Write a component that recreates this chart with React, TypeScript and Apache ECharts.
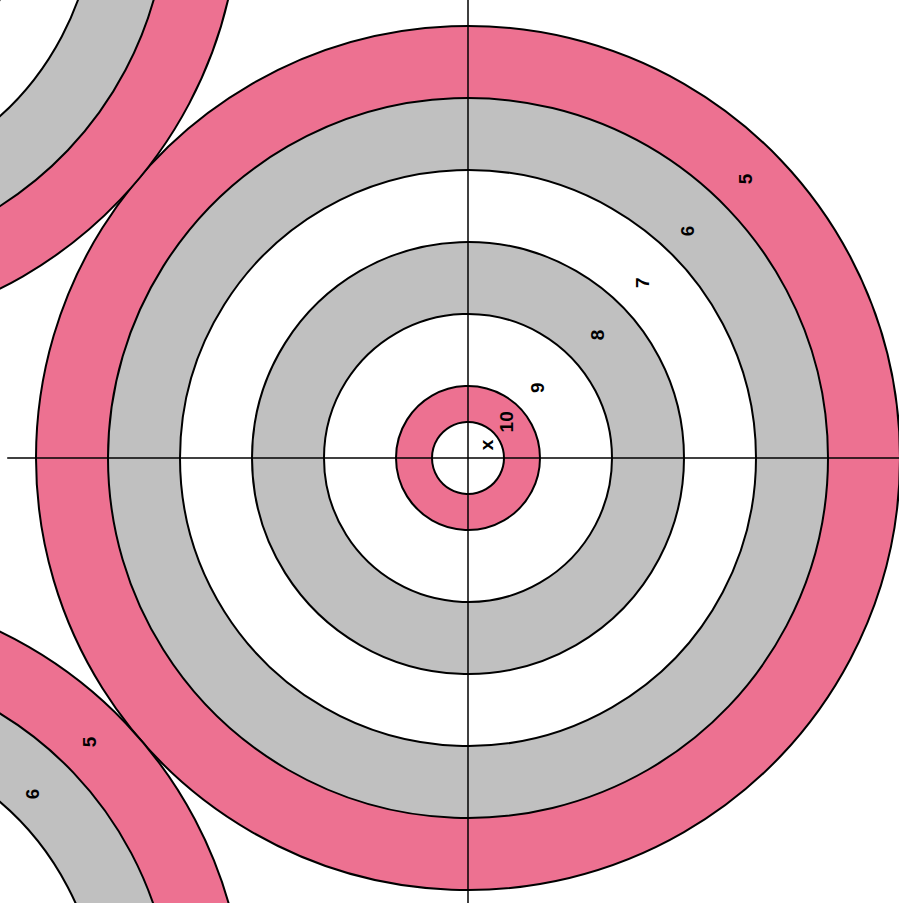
import React, { useEffect, useRef } from "react";
import * as echarts from "echarts";

// Target centres, in ring units (main target at origin)
const TARGET_X = [0, -9.18, -9.1];
const TARGET_Y = [0, 7.72, -7.82];

// Ring radii (ring units), outer to inner, and their fills
const RING_RADII = [6, 5, 4, 3, 2, 1, 0.5];
const RING_COLORS = ["#ED7191", "#C0C0C0", "#FFFFFF", "#C0C0C0", "#FFFFFF", "#ED7191", "#FFFFFF"];

// Score labels along the diagonal
const SCORE_LABELS = ["5", "6", "7", "8", "9", "10", "x"];
const LABEL_RADII = [5.46, 4.39, 3.43, 2.48, 1.37, 0.73, 0.31];
const LABEL_ANGLES = [45.2, 45.9, 45.2, 43.6, 45.4, 43.5, 35.8];

const CROSS_HALF = 6.4;

const W = 899;
const H = 903;
const CX = 468;
const CY = 458;
const UNIT = 72;

export default function App() {
  const ref = useRef<HTMLDivElement>(null);
  useEffect(() => {
    if (!ref.current) return;
    const chart = echarts.init(ref.current, null, { renderer: "svg" });
    const data = TARGET_X.map((x, i) => [x, TARGET_Y[i]]);
    chart.setOption({
      animation: false,
      backgroundColor: "#FFFFFF",
      grid: { left: 0, right: 0, top: 0, bottom: 0 },
      xAxis: { type: "value", min: -CX / UNIT, max: (W - CX) / UNIT, show: false },
      yAxis: { type: "value", min: -(H - CY) / UNIT, max: CY / UNIT, show: false },
      series: [
        {
          type: "custom",
          clip: false,
          data,
          renderItem: (params: any, api: any) => {
            const c = api.coord([api.value(0), api.value(1)]);
            const u = api.size([1, 1])[0];
            const vw = api.getWidth();
            const vh = api.getHeight();
            const children: any[] = [];
            RING_RADII.forEach((r, k) => {
              children.push({
                type: "circle",
                shape: { cx: c[0], cy: c[1], r: r * u },
                style: { fill: RING_COLORS[k], stroke: "#000", lineWidth: 2 },
              });
            });
            children.push({
              type: "line",
              shape: { x1: c[0] - CROSS_HALF * u, y1: c[1], x2: c[0] + CROSS_HALF * u, y2: c[1] },
              style: { stroke: "#000", lineWidth: 1.5 },
            });
            children.push({
              type: "line",
              shape: { x1: c[0], y1: c[1] - CROSS_HALF * u, x2: c[0], y2: c[1] + CROSS_HALF * u },
              style: { stroke: "#000", lineWidth: 1.5 },
            });
            SCORE_LABELS.forEach((t, k) => {
              const a = (LABEL_ANGLES[k] * Math.PI) / 180;
              const rr = LABEL_RADII[k] * u;
              const x = c[0] + rr * Math.cos(a);
              const y = c[1] - rr * Math.sin(a);
              if (x < 10 || y < 10 || x > vw - 10 || y > vh - 10) return;
              children.push({
                type: "text",
                x,
                y,
                rotation: Math.PI / 2,
                style: {
                  text: t,
                  fill: "#000",
                  fontSize: 19,
                  fontWeight: "bold",
                  fontFamily: "Liberation Sans, Arial, sans-serif",
                  align: "center",
                  verticalAlign: "middle",
                },
              });
            });
            return { type: "group", children };
          },
        },
      ],
    });
    return () => chart.dispose();
  }, []);
  return (
    <div
      ref={ref}
      style={{ position: "fixed", left: 0, top: 0, width: W, height: H }}
    />
  );
}
